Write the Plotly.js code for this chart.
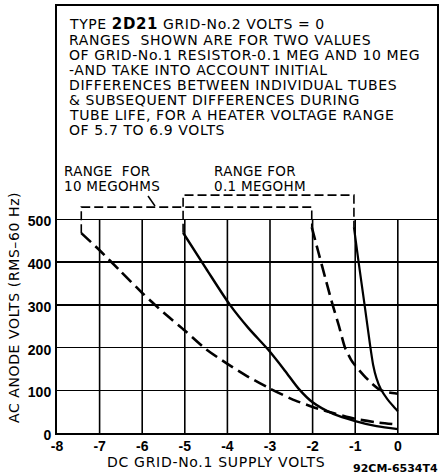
<!DOCTYPE html>
<html>
<head>
<meta charset="utf-8">
<script src="https://cdn.plot.ly/plotly-3.0.1.min.js"></script>
<style>
html,body{margin:0;padding:0;background:#fff;}
#chart{width:443px;height:476px;}
</style>
</head>
<body>
<div id="chart"></div>
<script>
// ---- data ----
// 10 megohm range (dashed): low bound (left) and high bound (right)
const tenMegLowX  = [-7.43, -7.0, -6.5, -6.0, -5.5, -5.0, -4.5, -4.0, -3.5, -3.0, -2.5, -2.0, -1.5, -1.0, -0.5, 0];
const tenMegLowY  = [468, 428, 378, 328, 282, 240, 196, 162, 131, 104, 80, 61, 46, 33, 25, 20];
const tenMegHighX = [-2.02, -1.85, -1.7, -1.53, -1.38, -1.24, -1.1, -1.0, -0.8, -0.6, -0.42, -0.2, 0];
const tenMegHighY = [482, 418, 362, 300, 250, 200, 172, 158, 135, 115, 101, 95, 92];
// 0.1 megohm range (solid): low bound (left) and high bound (right)
const pointOneLowX  = [-5.04, -4.5, -3.94, -3.5, -3.05, -2.65, -2.33, -2.0, -1.5, -1.0, -0.5, 0];
const pointOneLowY  = [469, 385, 300, 245, 196, 146, 104, 72, 44, 28, 16, 9];
const pointOneHighX = [-1.03, -0.92, -0.78, -0.65, -0.58, -0.5, -0.4, -0.25, -0.1, 0];
const pointOneHighY = [482, 400, 300, 205, 160, 128, 103, 80, 62, 51];

const xTicks = [-8, -7, -6, -5, -4, -3, -2, -1, 0];
const xTickLabels = ['-8', '-7', '-6', '-5', '-4', '-3', '-2', '-1', '0'];
const yTicks = [0, 100, 200, 300, 400, 500];
const yTickLabels = ['0', '100', '200', '300', '400', '500'];

const noteLines = [
  'TYPE <b><span style="font-size:15px">2D21</span></b> GRID-No.2 VOLTS = 0',
  'RANGES  SHOWN ARE FOR TWO VALUES',
  'OF GRID-No.1 RESISTOR-0.1 MEG AND 10 MEG',
  '-AND TAKE INTO ACCOUNT INITIAL',
  'DIFFERENCES BETWEEN INDIVIDUAL TUBES',
  '& SUBSEQUENT DIFFERENCES DURING',
  'TUBE LIFE, FOR A HEATER VOLTAGE RANGE',
  'OF 5.7 TO 6.9 VOLTS'
];

// ---- rendering ----
const FONT = 'DejaVu Sans, Liberation Sans, sans-serif';
const TICKFONT = 'Liberation Sans, Arial, sans-serif';
const W = 443, H = 476;
const M = {l: 57, r: 6, t: 6, b: 43};
const PW = W - M.l - M.r, PH = H - M.t - M.b;
const px = x => (x - M.l) / PW;      // pixel -> paper
const py = y => (H - M.b - y) / PH;
const sp = (t, ls) => `<span style="letter-spacing:${ls}px">${t}</span>`;

const curveDash = '13px,6px';
const traces = [
  {x: tenMegLowX, y: tenMegLowY, mode: 'lines', line: {color: '#000', width: 2.6, dash: curveDash, shape: 'spline', smoothing: 0.6}, hoverinfo: 'skip'},
  {x: tenMegHighX, y: tenMegHighY, mode: 'lines', line: {color: '#000', width: 2.6, dash: curveDash, shape: 'spline', smoothing: 0.6}, hoverinfo: 'skip'},
  {x: pointOneLowX, y: pointOneLowY, mode: 'lines', line: {color: '#000', width: 2.4, shape: 'spline', smoothing: 0.8}, hoverinfo: 'skip'},
  {x: pointOneHighX, y: pointOneHighY, mode: 'lines', line: {color: '#000', width: 2.2, shape: 'spline', smoothing: 0.6}, hoverinfo: 'skip'}
];

const shapes = [];
// vertical grid lines only up to 500
xTicks.slice(1).forEach(v => shapes.push({type: 'line', xref: 'x', yref: 'y', x0: v, x1: v, y0: 0, y1: yTicks[yTicks.length - 1], line: {color: '#000', width: 1.6}, layer: 'below'}));
// range brackets (from the start points of the curves)
const br = {color: '#000', width: 1.6, dash: '9px,4px'};
const b10 = 529, b01 = 557;
shapes.push({type: 'path', xref: 'x', yref: 'y', line: br,
  path: `M${tenMegLowX[0]},${tenMegLowY[0]} L${tenMegLowX[0]},${b10} L${tenMegHighX[0]},${b10} L${tenMegHighX[0]},${tenMegHighY[0]}`});
shapes.push({type: 'path', xref: 'x', yref: 'y', line: br,
  path: `M${pointOneLowX[0]},${pointOneLowY[0]} L${pointOneLowX[0]},${b01} L${pointOneHighX[0]},${b01} L${pointOneHighX[0]},${pointOneHighY[0]}`});
// leader for "10 MEGOHMS"
shapes.push({type: 'line', xref: 'paper', yref: 'paper', x0: px(148), y0: py(196), x1: px(155), y1: py(206), line: {color: '#000', width: 1.5}});

const ann = [];
noteLines.forEach((t, i) => ann.push({xref: 'paper', yref: 'paper', x: px(67), y: py((i === 0 ? 24 : 25) + 15 * i), xanchor: 'left', yanchor: 'middle',
  text: sp(t, 0.6), showarrow: false, font: {family: FONT, size: 14, color: '#000'}}));
const lab = (t, x, y) => ann.push({xref: 'paper', yref: 'paper', x: px(x), y: py(y), xanchor: 'left', yanchor: 'middle', text: sp(t, 0.3), showarrow: false, font: {family: FONT, size: 13.5, color: '#000'}});
lab('RANGE  FOR', 62, 171);
lab('10 MEGOHMS', 62, 186);
lab('RANGE FOR', 212, 171);
lab('0.1 MEGOHM', 212, 186);
ann.push({xref: 'paper', yref: 'paper', x: px(14), y: py(308), xanchor: 'center', yanchor: 'middle', textangle: -90,
  text: sp('AC ANODE VOLTS (RMS–60 Hz)', 0.6), showarrow: false, font: {family: FONT, size: 14, color: '#000'}});
ann.push({xref: 'paper', yref: 'paper', x: px(216), y: py(462), xanchor: 'center', yanchor: 'middle',
  text: sp('DC GRID-No.1 SUPPLY VOLTS', 0.7), showarrow: false, font: {family: FONT, size: 14, color: '#000'}});
ann.push({xref: 'paper', yref: 'paper', x: px(440), y: py(468), xanchor: 'right', yanchor: 'middle',
  text: '<b>92CM-6534T4</b>', showarrow: false, font: {family: FONT, size: 11, color: '#000'}});

const layout = {
  width: W, height: H, margin: M,
  paper_bgcolor: '#fff', plot_bgcolor: '#fff', showlegend: false,
  xaxis: {range: [-8, 0.92], tickvals: xTicks, ticktext: xTickLabels, showgrid: false, zeroline: false,
    showline: true, mirror: true, linecolor: '#000', linewidth: 2, ticks: '', ticklabelstandoff: -1,
    tickfont: {family: TICKFONT, size: 14, color: '#000', weight: 'bold'}, fixedrange: true},
  yaxis: {range: [0, 1000], tickvals: yTicks, ticktext: yTickLabels, showgrid: true, gridcolor: '#000', gridwidth: 1.6,
    zeroline: false, showline: true, mirror: true, linecolor: '#000', linewidth: 2, ticks: '', ticklabelshift: 2,
    ticklabelstandoff: 1,
    tickfont: {family: TICKFONT, size: 14, color: '#000', weight: 'bold'}, fixedrange: true},
  shapes: shapes, annotations: ann
};
Plotly.newPlot('chart', traces, layout, {staticPlot: true, displayModeBar: false});
</script>
</body>
</html>
